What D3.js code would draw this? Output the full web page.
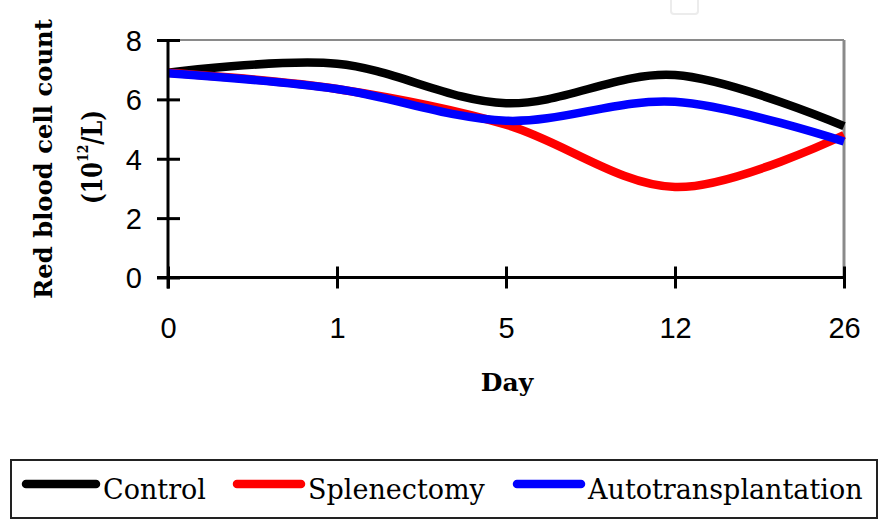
<!DOCTYPE html>
<html><head><meta charset="utf-8">
<script src="https://cdn.jsdelivr.net/npm/d3@7"></script>
<style>body{margin:0;background:#fff}svg{display:block}</style>
</head><body>
<script>
const days = ["0", "1", "5", "12", "26"];
const control = [6.9, 7.2, 5.87, 6.82, 5.1];
const splenectomy = [6.9, 6.35, 5.15, 3.05, 4.8];
const autotransplantation = [6.88, 6.35, 5.28, 5.92, 4.58];
const seriesNames = ["Control", "Splenectomy", "Autotransplantation"];
const seriesColors = ["#000000", "#ff0000", "#0000ff"];
const yTicks = [0, 2, 4, 6, 8];

const W = 879, H = 521;
const svg = d3.select("body").append("svg").attr("width", W).attr("height", H);
svg.append("rect").attr("width", W).attr("height", H).attr("fill", "#fff");

// faint artifact square at top
svg.append("rect").attr("x", 671).attr("y", -6).attr("width", 27).attr("height", 20)
  .attr("rx", 3).attr("fill", "none").attr("stroke", "#ececec").attr("stroke-width", 2);

const x = d3.scalePoint().domain(days).range([168, 844]).padding(0);
const y = d3.scaleLinear().domain([0, 8]).range([277.5, 40]);

// plot border (gray top & right)
svg.append("line").attr("x1", 168).attr("x2", 844).attr("y1", y(8)).attr("y2", y(8))
  .attr("stroke", "#8a8a8a").attr("stroke-width", 2);
svg.append("line").attr("x1", 844).attr("x2", 844).attr("y1", y(8)).attr("y2", y(0))
  .attr("stroke", "#8a8a8a").attr("stroke-width", 3);

const data = [control, splenectomy, autotransplantation];
const line = d3.line().x((d, i) => x(days[i])).y(d => y(d)).curve(d3.curveCardinal.tension(0));
data.forEach((vals, k) => {
  svg.append("path").attr("d", line(vals)).attr("fill", "none")
    .attr("stroke", seriesColors[k]).attr("stroke-width", 8.5).attr("stroke-linecap", "butt");
});

// axes
const yAxis = d3.axisLeft(y).tickValues(yTicks).tickSize(0).tickPadding(0).tickFormat(d3.format("d"));
const gy = svg.append("g").attr("transform", "translate(168,0)").call(yAxis);
gy.select(".domain").remove();
gy.selectAll("text").attr("x", -26).attr("dy", "0.36em")
  .attr("font-family", "Liberation Sans, Arial, sans-serif").attr("font-size", 29).attr("fill", "#000");
gy.selectAll(".tick").append("line").attr("x1", -11).attr("x2", 12)
  .attr("stroke", "#000").attr("stroke-width", 3);
svg.append("line").attr("x1", 168).attr("x2", 168).attr("y1", y(8)).attr("y2", y(0) + 11)
  .attr("stroke", "#000").attr("stroke-width", 3);

const xAxis = d3.axisBottom(x).tickSize(0).tickPadding(0);
const gx = svg.append("g").attr("transform", `translate(0,${y(0)})`).call(xAxis);
gx.select(".domain").remove();
gx.selectAll("text").attr("y", 60).attr("dy", 0)
  .attr("font-family", "Liberation Sans, Arial, sans-serif").attr("font-size", 29).attr("fill", "#000");
gx.selectAll(".tick").append("line").attr("y1", -11).attr("y2", 11)
  .attr("stroke", "#000").attr("stroke-width", 3);
svg.append("line").attr("x1", 157).attr("x2", 845).attr("y1", y(0)).attr("y2", y(0))
  .attr("stroke", "#000").attr("stroke-width", 3);

// axis titles
svg.append("text").attr("x", 507).attr("y", 391).attr("text-anchor", "middle")
  .attr("font-family", "DejaVu Serif, serif").attr("font-weight", "bold").attr("font-size", 25)
  .text("Day");

const yl = svg.append("g").attr("transform", "translate(0,159) rotate(-90)");
yl.append("text").attr("x", 0).attr("y", 52).attr("text-anchor", "middle")
  .attr("font-family", "DejaVu Serif, serif").attr("font-weight", "bold").attr("font-size", 24.3)
  .text("Red blood cell count");
const t2 = yl.append("text").attr("x", 2).attr("y", 102).attr("text-anchor", "middle")
  .attr("font-family", "DejaVu Serif, serif").attr("font-weight", "bold").attr("font-size", 27)
  .attr("textLength", 94).attr("lengthAdjust", "spacingAndGlyphs");
t2.append("tspan").text("(10");
t2.append("tspan").attr("font-size", 15).attr("dy", -14).text("12");
t2.append("tspan").attr("dy", 14).text("/L)");

// legend
svg.append("rect").attr("x", 11).attr("y", 460).attr("width", 866).attr("height", 58)
  .attr("fill", "#fff").attr("stroke", "#222").attr("stroke-width", 2);
const legX = [22, 233, 513];
const legW = [78, 72, 72];
seriesNames.forEach((n, k) => {
  svg.append("line").attr("x1", legX[k] + 4).attr("x2", legX[k] + legW[k] - 4)
    .attr("y1", 484).attr("y2", 484).attr("stroke", seriesColors[k])
    .attr("stroke-width", 8.5).attr("stroke-linecap", "round");
  svg.append("text").attr("x", legX[k] + legW[k] + 3).attr("y", 499)
    .attr("font-family", "DejaVu Serif, serif").attr("font-size", 27).attr("fill", "#000")
    .text(n);
});
</script>
</body></html>
